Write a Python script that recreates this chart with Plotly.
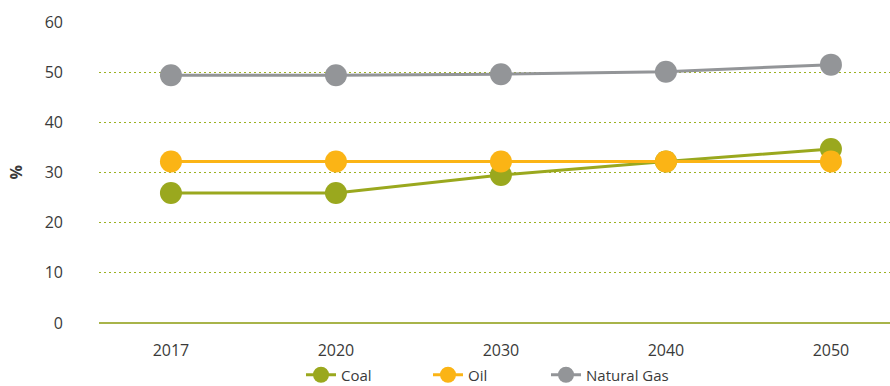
import plotly.graph_objects as go

years = ["2017", "2020", "2030", "2040", "2050"]
coal = [25.9, 25.9, 29.5, 32.2, 34.7]
oil = [32.2, 32.2, 32.2, 32.2, 32.2]
gas = [49.4, 49.4, 49.6, 50.1, 51.5]

series = [
    ("Coal", coal, "#9aa81e"),
    ("Oil", oil, "#fbb415"),
    ("Natural Gas", gas, "#939598"),
]
legend_ids = ["legend", "legend2", "legend3"]
legend_x = [301, 428, 546]

fig = go.Figure()
for (name, vals, col), lid in zip(series, legend_ids):
    fig.add_trace(go.Scatter(
        x=years, y=vals, name=name, mode="lines+markers",
        line=dict(color=col, width=3),
        marker=dict(color=col, size=22),
        legend=lid,
    ))

font = "'Open Sans', Lato, sans-serif"
txt = "#3a3a3a"
legend_common = dict(orientation="h", xanchor="left", xref="container",
                     yref="container", y=11 / 386, yanchor="middle",
                     bgcolor="rgba(0,0,0,0)", font=dict(size=15, color=txt))
fig.update_layout(
    width=890, height=386,
    margin=dict(l=99, r=0, t=22, b=63, autoexpand=False),
    paper_bgcolor="white", plot_bgcolor="white",
    font=dict(family=font, size=16, color=txt),
    showlegend=True,
    xaxis=dict(type="category", range=[-0.436, 4.358], showgrid=False,
               showline=False, zeroline=False, ticks="", automargin=False,
               ticklabelstandoff=16,
               tickfont=dict(size=16, color=txt)),
    yaxis=dict(range=[0, 60], dtick=10, showgrid=True, gridcolor="#9cb020",
               griddash="2px,3px", gridwidth=1, zeroline=True, zerolinecolor="#a8b44a",
               zerolinewidth=2, showline=False, ticks="", automargin=False,
               ticklabelstandoff=35,
               tickfont=dict(size=16, color=txt)),
    annotations=[dict(text="<b>%</b>", xref="paper", yref="paper", x=-0.105, y=0.5,
                      xanchor="center", yanchor="middle", showarrow=False,
                      textangle=-90, font=dict(size=16, color=txt))],
)
for lid, lx in zip(legend_ids, legend_x):
    fig.update_layout({lid: dict(legend_common, x=lx / 890)})

fig.write_html("out.html")
